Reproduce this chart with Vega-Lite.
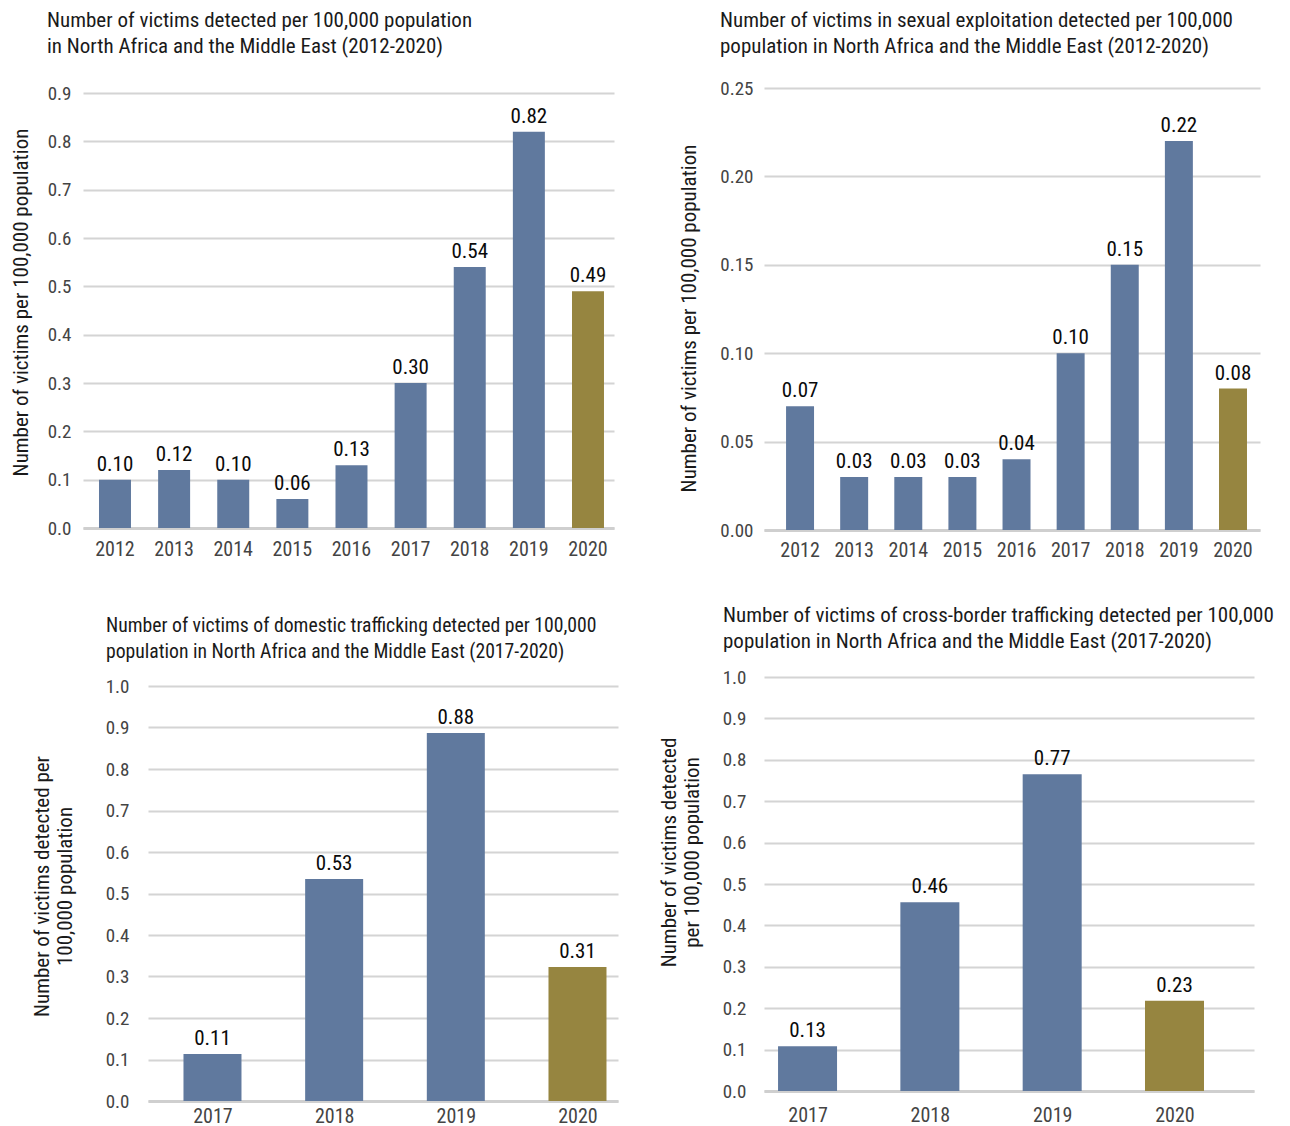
{
  "$schema": "https://vega.github.io/schema/vega-lite/v6.json",
  "padding": {"left": 10, "top": 10, "right": 5, "bottom": 5},
  "background": "white",
  "bounds": "flush",
  "columns": 2,
  "spacing": {"row": 147, "column": 146},
  "datasets": {
    "p1": [
      {"year": 2012, "value": 0.10, "label": "0.10"},
      {"year": 2013, "value": 0.12, "label": "0.12"},
      {"year": 2014, "value": 0.10, "label": "0.10"},
      {"year": 2015, "value": 0.06, "label": "0.06"},
      {"year": 2016, "value": 0.13, "label": "0.13"},
      {"year": 2017, "value": 0.30, "label": "0.30"},
      {"year": 2018, "value": 0.54, "label": "0.54"},
      {"year": 2019, "value": 0.82, "label": "0.82"},
      {"year": 2020, "value": 0.49, "label": "0.49"}
    ],
    "p2": [
      {"year": 2012, "value": 0.07, "label": "0.07"},
      {"year": 2013, "value": 0.03, "label": "0.03"},
      {"year": 2014, "value": 0.03, "label": "0.03"},
      {"year": 2015, "value": 0.03, "label": "0.03"},
      {"year": 2016, "value": 0.04, "label": "0.04"},
      {"year": 2017, "value": 0.10, "label": "0.10"},
      {"year": 2018, "value": 0.15, "label": "0.15"},
      {"year": 2019, "value": 0.22, "label": "0.22"},
      {"year": 2020, "value": 0.08, "label": "0.08"}
    ],
    "p3": [
      {"year": 2017, "value": 0.113, "label": "0.11"},
      {"year": 2018, "value": 0.535, "label": "0.53"},
      {"year": 2019, "value": 0.887, "label": "0.88"},
      {"year": 2020, "value": 0.323, "label": "0.31"}
    ],
    "p4": [
      {"year": 2017, "value": 0.108, "label": "0.13"},
      {"year": 2018, "value": 0.456, "label": "0.46"},
      {"year": 2019, "value": 0.765, "label": "0.77"},
      {"year": 2020, "value": 0.218, "label": "0.23"}
    ]
  },
  "concat": [
    {
      "width": 531,
      "height": 440,
      "data": {"name": "p1"},
      "title": {"text": ["Number of victims detected per 100,000 population", "in North Africa and the Middle East (2012-2020)"], "dx": -36, "offset": 27},
      "encoding": {
        "x": {"field": "year", "type": "ordinal", "scale": {"paddingInner": 0.459, "paddingOuter": 0.22, "align": 0.615}, "axis": {"title": null, "labelPadding": 11}},
        "y": {"field": "value", "type": "quantitative", "scale": {"domain": [0, 0.9], "range": [440, 5], "nice": false}, "axis": {"values": [0, 0.1, 0.2, 0.3, 0.4, 0.5, 0.6, 0.7, 0.8, 0.9], "format": ".1f", "title": "Number of victims per 100,000 population", "labelPadding": 12, "titlePadding": 16, "titleY": 214}}
      },
      "layer": [
        {"mark": {"type": "bar"}, "encoding": {"color": {"condition": {"test": "datum.year == 2020", "value": "#968540"}, "value": "#60799e"}}},
        {"mark": {"type": "text", "baseline": "alphabetic", "dy": -9, "fontSize": 21, "color": "#0a0a0a"}, "encoding": {"text": {"field": "label"}}}
      ]
    },
    {
      "width": 496,
      "height": 442,
      "data": {"name": "p2"},
      "title": {"text": ["Number of victims in sexual exploitation detected per 100,000", "population in North Africa and the Middle East (2012-2020)"], "dx": -44, "offset": 22},
      "encoding": {
        "x": {"field": "year", "type": "ordinal", "scale": {"paddingInner": 0.483, "paddingOuter": 0.324, "align": 0.629}, "axis": {"title": null, "labelPadding": 10}},
        "y": {"field": "value", "type": "quantitative", "scale": {"domain": [0, 0.25], "nice": false}, "axis": {"values": [0, 0.05, 0.1, 0.15, 0.2, 0.25], "format": ".2f", "title": "Number of victims per 100,000 population", "labelPadding": 11, "titlePadding": 20, "titleY": 230}}
      },
      "layer": [
        {"mark": {"type": "bar"}, "encoding": {"color": {"condition": {"test": "datum.year == 2020", "value": "#968540"}, "value": "#60799e"}}},
        {"mark": {"type": "text", "baseline": "alphabetic", "dy": -9, "fontSize": 21, "color": "#0a0a0a"}, "encoding": {"text": {"field": "label"}}}
      ]
    },
    {
      "width": 535,
      "height": 424,
      "data": {"name": "p3"},
      "title": {"text": ["Number of victims of domestic trafficking detected per 100,000", "population in North Africa and the Middle East (2017-2020)"], "dx": 23, "offset": 15, "fontSize": 19.7},
      "encoding": {
        "x": {"field": "year", "type": "quantitative", "scale": {"domain": [2016.47, 2020.333], "range": [65, 535], "padding": 0, "nice": false, "zero": false}, "axis": {"values": [2017, 2018, 2019, 2020], "format": "d", "title": null, "labelPadding": 5, "labelFlush": false}},
        "y": {"field": "value", "type": "quantitative", "scale": {"domain": [0, 1], "range": [424, 9], "nice": false}, "axis": {"values": [0, 0.1, 0.2, 0.3, 0.4, 0.5, 0.6, 0.7, 0.8, 0.9, 1.0], "format": ".1f", "title": ["Number of victims detected per", "100,000 population"], "offset": -65, "labelPadding": 19, "titlePadding": 30, "titleY": 209}}
      },
      "layer": [
        {"mark": {"type": "bar", "width": 58}, "encoding": {"color": {"condition": {"test": "datum.year == 2020", "value": "#968540"}, "value": "#60799e"}}},
        {"mark": {"type": "text", "baseline": "alphabetic", "dy": -9, "fontSize": 21, "color": "#0a0a0a"}, "encoding": {"text": {"field": "label"}}}
      ]
    },
    {
      "width": 490,
      "height": 414,
      "data": {"name": "p4"},
      "title": {"text": ["Number of victims of cross-border trafficking detected per 100,000", "population in North Africa and the Middle East (2017-2020)"], "dx": -41, "offset": 16},
      "encoding": {
        "x": {"field": "year", "type": "quantitative", "scale": {"domain": [2016.644, 2020.65], "padding": 0, "nice": false, "zero": false}, "axis": {"values": [2017, 2018, 2019, 2020], "format": "d", "title": null, "labelPadding": 14, "labelFlush": false}},
        "y": {"field": "value", "type": "quantitative", "scale": {"domain": [0, 1], "nice": false}, "axis": {"values": [0, 0.1, 0.2, 0.3, 0.4, 0.5, 0.6, 0.7, 0.8, 0.9, 1.0], "format": ".1f", "title": ["Number of victims detected", "per 100,000 population"], "labelPadding": 18, "titlePadding": 20, "titleY": 175}}
      },
      "layer": [
        {"mark": {"type": "bar", "width": 59}, "encoding": {"color": {"condition": {"test": "datum.year == 2020", "value": "#968540"}, "value": "#60799e"}}},
        {"mark": {"type": "text", "baseline": "alphabetic", "dy": -9, "fontSize": 21, "color": "#0a0a0a"}, "encoding": {"text": {"field": "label"}}}
      ]
    }
  ],
  "config": {
    "font": "Liberation Sans Narrow, Roboto Condensed, Roboto, sans-serif",
    "view": {"stroke": null},
    "axis": {"labelFontSize": 19, "labelColor": "#444444", "titleFontSize": 21, "titleFontWeight": "normal", "titleColor": "#1a1a1a", "ticks": false, "gridColor": "#d4d4d4", "gridWidth": 2, "domain": false},
    "axisX": {"grid": false, "domain": true, "domainColor": "#cfcfcf", "domainWidth": 3, "labelAngle": 0, "labelFontSize": 20},
    "title": {"fontSize": 21, "fontWeight": "normal", "color": "#1a1a1a", "anchor": "start", "frame": "group", "lineHeight": 26}
  }
}
